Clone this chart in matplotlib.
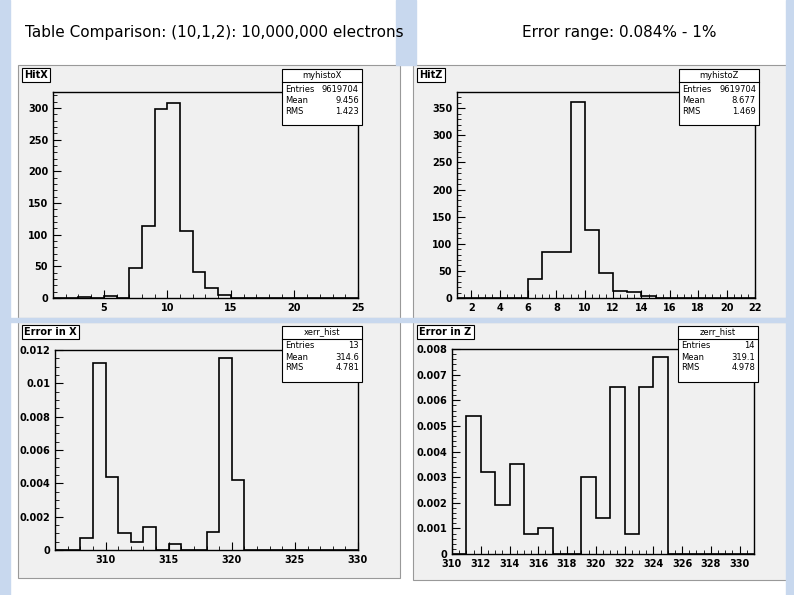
import numpy as np
import matplotlib.pyplot as plt
from matplotlib.patches import Rectangle
from matplotlib.ticker import FormatStrFormatter

W, H = 794, 595

title_left = "Table Comparison: (10,1,2): 10,000,000 electrons"
title_right = "Error range: 0.084% - 1%"

# histogram contents (bin edges, contents)
hitx_edges = np.arange(1, 26)
hitx_vals = [0, 0, 1, 0, 3, 0, 48, 114, 298, 308, 106, 41, 15, 4, 0, 0, 0, 0, 0, 0, 0, 0, 0, 0]

hitz_edges = np.arange(1, 23)
hitz_vals = [0, 0, 0, 0, 0, 35, 85, 85, 362, 125, 47, 13, 11, 3, 0, 0, 0, 0, 0, 0, 0]

xerr_edges = np.arange(306, 331)
xerr_vals = [0, 0, 0.0007, 0.0112, 0.0044, 0.001, 0.0005, 0.0014, 0, 0.00035, 0, 0,
             0.0011, 0.0115, 0.0042, 0, 0, 0, 0, 0, 0, 0, 0, 0]

zerr_edges = np.arange(310, 332)
zerr_vals = [0, 0.0054, 0.0032, 0.0019, 0.0035, 0.0008, 0.001, 0, 0, 0.003, 0.0014,
             0.0065, 0.0008, 0.0065, 0.0077, 0, 0, 0, 0, 0, 0]

panels = [
    # name, stats name, stats, edges, vals, xlim, ylim, xticks, yticks, axes px box, panel px box
    ("HitX", "myhistoX", [("Entries", "9619704"), ("Mean", "9.456"), ("RMS", "1.423")],
     hitx_edges, hitx_vals, (1, 25), (0, 325), [5, 10, 15, 20, 25], [0, 50, 100, 150, 200, 250, 300],
     (53, 92, 358, 298), (18, 65, 400, 318)),
    ("HitZ", "myhistoZ", [("Entries", "9619704"), ("Mean", "8.677"), ("RMS", "1.469")],
     hitz_edges, hitz_vals, (1, 22), (0, 380), list(range(2, 23, 2)), [0, 50, 100, 150, 200, 250, 300, 350],
     (457, 92, 755, 298), (413, 65, 792, 318)),
    ("Error in X", "xerr_hist", [("Entries", "13"), ("Mean", "314.6"), ("RMS", "4.781")],
     xerr_edges, xerr_vals, (306, 330), (0, 0.012), [310, 315, 320, 325, 330],
     [0, 0.002, 0.004, 0.006, 0.008, 0.01, 0.012],
     (55, 350, 358, 550), (18, 322, 400, 578)),
    ("Error in Z", "zerr_hist", [("Entries", "14"), ("Mean", "319.1"), ("RMS", "4.978")],
     zerr_edges, zerr_vals, (310, 331), (0, 0.008), list(range(310, 331, 2)),
     [0, 0.001, 0.002, 0.003, 0.004, 0.005, 0.006, 0.007, 0.008],
     (452, 349, 754, 554), (413, 322, 792, 580)),
]

fig = plt.figure(figsize=(W / 100, H / 100), dpi=100)
fig.patch.set_facecolor("white")

def fx(x):
    return x / W

def fy(y):
    return 1 - y / H

# faint bluish slide frame
for (x0, y0, x1, y1) in [(0, 0, 10, 595), (396, 0, 416, 65), (0, 318, 794, 322), (786, 0, 794, 595)]:
    fig.patches.append(Rectangle((fx(x0), fy(y1)), fx(x1 - x0), (y1 - y0) / H,
                                 transform=fig.transFigure, color="#c8d8ee", zorder=0))

fig.text(fx(25), fy(32), title_left, fontsize=11, va="center")
fig.text(fx(522), fy(32), title_right, fontsize=11, va="center")

for name, sname, stats, edges, vals, xlim, ylim, xt, yt, abox, pbox in panels:
    px0, py0, px1, py1 = pbox
    fig.patches.append(Rectangle((fx(px0), fy(py1)), fx(px1 - px0), (py1 - py0) / H,
                                 transform=fig.transFigure, facecolor="#f0f0f0",
                                 edgecolor="#999999", lw=0.8, zorder=-1))
    x0, y0, x1, y1 = abox
    ax = fig.add_axes([fx(x0), fy(y1), fx(x1 - x0), (y1 - y0) / H])
    ax.set_zorder(2)
    ax.set_facecolor("#f0f0f0")
    ax.stairs(vals, edges, color="black", lw=1.2)
    ax.set_xlim(*xlim)
    ax.set_ylim(*ylim)
    ax.set_xticks(xt)
    ax.set_yticks(yt)
    ax.yaxis.set_major_formatter(FormatStrFormatter("%g"))
    ax.minorticks_on()
    ax.tick_params(direction="in", labelsize=7, length=6, width=0.8)
    ax.tick_params(which="minor", direction="in", length=3)
    ax.tick_params(right=False, top=False, which="both")
    for lab in ax.get_xticklabels() + ax.get_yticklabels():
        lab.set_fontweight("bold")
    for sp in ax.spines.values():
        sp.set_linewidth(1.0)

    # title box
    fig.text(fx(px0 + 6), fy(py0 + 10), name, fontsize=7, fontweight="bold", va="center", zorder=6,
             bbox=dict(boxstyle="square,pad=0.25", fc="white", ec="black", lw=0.8))
    # stats box
    bw = 80
    bx0 = x1 + 4 - bw
    fig.patches.append(Rectangle((fx(bx0), fy(py0 + 60)), fx(bw), 56 / H,
                                 transform=fig.transFigure, facecolor="white",
                                 edgecolor="black", lw=0.8, zorder=5))
    fig.text(fx(bx0 + bw / 2), fy(py0 + 10), sname, fontsize=6, ha="center", va="center", zorder=6)
    fig.lines.append(plt.Line2D([fx(bx0), fx(bx0 + bw)], [fy(py0 + 17)] * 2,
                                transform=fig.transFigure, color="black", lw=0.8, zorder=6))
    for i, (k, v) in enumerate(stats):
        yy = fy(py0 + 24 + i * 11)
        fig.text(fx(bx0 + 3), yy, k, fontsize=6, va="center", zorder=6)
        fig.text(fx(bx0 + bw - 3), yy, v, fontsize=6, va="center", ha="right", zorder=6)

fig.savefig("out.png", dpi=100)
